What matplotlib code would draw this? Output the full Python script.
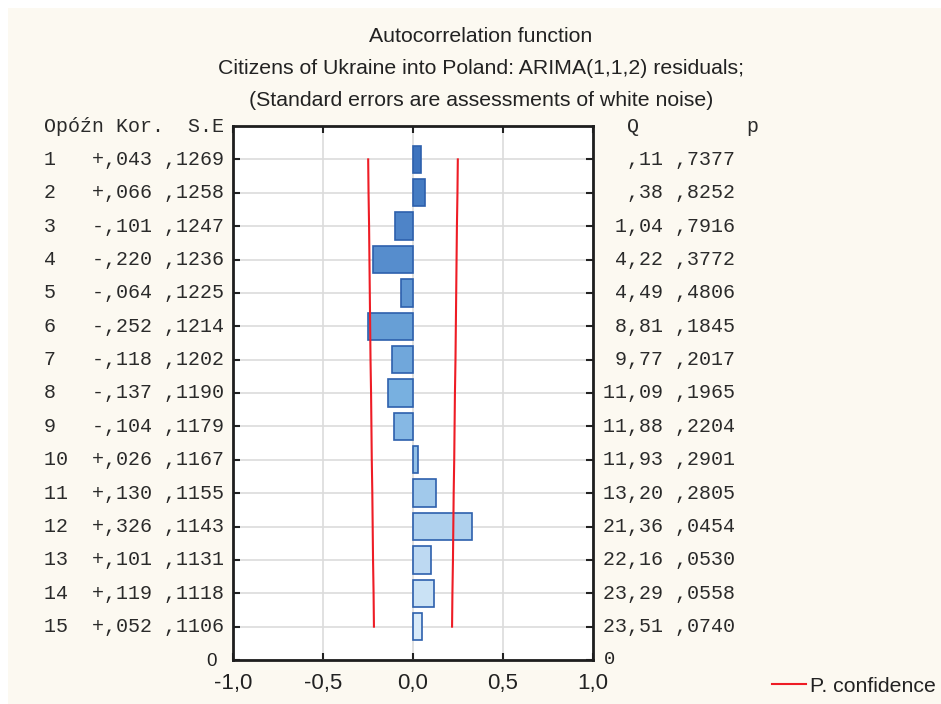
#!/usr/bin/env python3

import matplotlib.pyplot as plt
import matplotlib.transforms as mtransforms
from matplotlib.patches import Rectangle
from matplotlib.colors import to_rgb

lags = [1, 2, 3, 4, 5, 6, 7, 8, 9, 10, 11, 12, 13, 14, 15]
autocorr = [0.043, 0.066, -0.101, -0.220, -0.064, -0.252, -0.118, -0.137,
            -0.104, 0.026, 0.130, 0.326, 0.101, 0.119, 0.052]
std_err = [0.1269, 0.1258, 0.1247, 0.1236, 0.1225, 0.1214, 0.1202, 0.1190,
           0.1179, 0.1167, 0.1155, 0.1143, 0.1131, 0.1118, 0.1106]
q_stat = [0.11, 0.38, 1.04, 4.22, 4.49, 8.81, 9.77, 11.09, 11.88, 11.93,
          13.20, 21.36, 22.16, 23.29, 23.51]
p_value = [0.7377, 0.8252, 0.7916, 0.3772, 0.4806, 0.1845, 0.2017, 0.1965,
           0.2204, 0.2901, 0.2805, 0.0454, 0.0530, 0.0558, 0.0740]
conf_limit = [0.249, 0.247, 0.244, 0.242, 0.240, 0.238, 0.236, 0.233,
              0.231, 0.229, 0.226, 0.224, 0.222, 0.219, 0.217]

x_ticks = [-1.0, -0.5, 0.0, 0.5, 1.0]
x_tick_labels = ['-1,0', '-0,5', '0,0', '0,5', '1,0']

titles = ['Autocorrelation function',
          'Citizens of Ukraine into Poland: ARIMA(1,1,2) residuals;',
          '(Standard errors are assessments of white noise)']


def dec(v, digits):
    # statistica style: no leading zero, comma as decimal mark
    s = f'{abs(v):.{digits}f}'
    if s.startswith('0'):
        s = s[1:]
    return s.replace('.', ',')


def bar_colour(t):
    # dark blue at the top, pale blue at the bottom
    stops = [(0.0, '#3d73be'), (0.5, '#78b0e0'), (1.0, '#d8eaf9')]
    for (t0, c0), (t1, c1) in zip(stops[:-1], stops[1:]):
        if t <= t1:
            a, b = to_rgb(c0), to_rgb(c1)
            f = (t - t0) / (t1 - t0)
            return tuple(a[i] + (b[i] - a[i]) * f for i in range(3))
    return to_rgb(stops[-1][1])


W, H = 941, 704
TXT = '#222222'
SANS = 'Liberation Sans'
MONO = 'Liberation Mono'

plt.rcParams['font.family'] = SANS
fig = plt.figure(figsize=(W / 100, H / 100), dpi=100, facecolor='white')
fig.patches.append(Rectangle((8 / W, 0), 1, 1 - 8 / H, transform=fig.transFigure,
                             facecolor='#fcf9f1', edgecolor='none', zorder=-10))

ax = fig.add_axes([233 / W, 1 - 660 / H, 360 / W, (660 - 126) / H])
ax.set_facecolor('white')

# row positions: lag 1 at top, 0 at the bottom
ypos = [16 - l for l in lags]

for k, (y, r) in enumerate(zip(ypos, autocorr)):
    ax.barh(y, r, height=0.82, left=0, color=bar_colour(k / (len(lags) - 1)),
            edgecolor='#2d60ad', linewidth=1.2, zorder=3)

ax.plot([-c for c in conf_limit], ypos, color='#ee1c25', lw=1.5, zorder=4,
        label='P. confidence')
ax.plot(conf_limit, ypos, color='#ee1c25', lw=1.5, zorder=4)

ax.set_xlim(-1, 1)
ax.set_ylim(0, 16)
ax.set_xticks(x_ticks)
ax.set_xticklabels(x_tick_labels, fontsize=16, color=TXT, family=SANS)
ax.set_yticks([0] + ypos)
ax.set_yticklabels(['0'] + [''] * len(ypos), fontsize=13.5, color=TXT, family=SANS)
ax.tick_params(axis='both', direction='in', length=5, width=1.5, color='#222222',
               top=True, right=True)
ax.tick_params(axis='x', pad=9)
ax.tick_params(axis='y', pad=12)
ax.grid(True, color='#dcdcdc', lw=1.2, zorder=0)
ax.set_axisbelow(True)
for sp in ax.spines.values():
    sp.set_linewidth(2.0)
    sp.set_color('#1e1e1e')

# right side "0" label
trans = mtransforms.blended_transform_factory(fig.transFigure, ax.transData)
fig.text(604 / W, 0, '0', transform=trans, fontsize=13.5, color=TXT,
         family=MONO, va='center', ha='left')

# table columns beside the plot
fs_mono = 14.4
mono_col = '#2a2a2a'
fig.text(44 / W, 16, 'Opóźn Kor.  S.E', transform=trans, fontsize=fs_mono,
         color=mono_col, family=MONO, va='center', ha='left')
fig.text(603 / W, 16, '  Q         p', transform=trans, fontsize=fs_mono,
         color=mono_col, family=MONO, va='center', ha='left')
for y, l, r, s, q, p in zip(ypos, lags, autocorr, std_err, q_stat, p_value):
    sign = '+' if r >= 0 else '-'
    left = f'{l:<4d}{sign}{dec(r, 3)} {dec(s, 4)}'
    right = f'{dec(q, 2):>5} {dec(p, 4)}'
    fig.text(44 / W, y, left, transform=trans, fontsize=fs_mono, color=mono_col,
             family=MONO, va='center', ha='left')
    fig.text(603 / W, y, right, transform=trans, fontsize=fs_mono, color=mono_col,
             family=MONO, va='center', ha='left')

for i, t in enumerate(titles):
    fig.text(481 / W, 1 - (37 + 32 * i) / H, t, fontsize=15.3, color=TXT,
             family=SANS, ha='center', va='center')

fig.legend(loc='center left', bbox_to_anchor=(772 / W, 1 - 686 / H),
           frameon=False, fontsize=15.3, handlelength=1.6, handletextpad=0.2,
           borderpad=0, borderaxespad=0, labelcolor=TXT)

fig.savefig('out.png', dpi=100, facecolor=fig.get_facecolor())
